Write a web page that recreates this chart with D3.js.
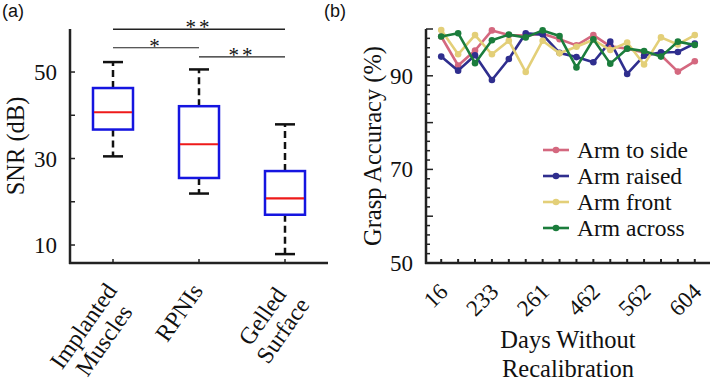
<!DOCTYPE html>
<html>
<head>
<meta charset="utf-8">
<script src="https://cdn.jsdelivr.net/npm/d3@7"></script>
<style>
  body { margin: 0; background: #fff; }
  svg { display: block; }
  text { font-family: "Liberation Serif", "Times New Roman", serif; fill: #111; }
</style>
</head>
<body>
<div id="chart"></div>
<script>
// ---- panel (a) data: SNR box plots
const groups = ["Implanted Muscles", "RPNIs", "Gelled Surface"];
const groupLines = [["Implanted", "Muscles"], ["RPNIs"], ["Gelled", "Surface"]];
const whiskerLow = [30.5, 21.9, 7.9];
const q1 = [36.7, 25.5, 17.0];
const median = [40.7, 33.3, 20.8];
const q3 = [46.3, 42.1, 27.1];
const whiskerHigh = [52.3, 50.6, 37.9];
const snrTicks = [10, 20, 30, 40, 50];
const snrTickLabels = [10, 30, 50];
// significance brackets: from group, to group, level (dB), stars
const sigFrom = [0, 0, 1];
const sigTo = [2, 1, 2];
const sigLevel = [59.9, 55.6, 53.5];
const sigStars = ["**", "*", "**"];

// ---- panel (b) data: grasp accuracy per session
const sessions = d3.range(16);
const dayTickIdx = [0, 3, 6, 9, 12, 15];
const dayTickLabels = ["16", "233", "261", "462", "562", "604"];
const seriesNames = ["Arm to side", "Arm raised", "Arm front", "Arm across"];
const armSide = [98.4, 92.2, 95.4, 99.7, 98.7, 98.6, 99.0, 97.8, 96.5, 98.7, 96.3, 95.8, 95.0, 94.4, 90.9, 93.1];
const armRaised = [94.1, 91.1, 94.4, 89.1, 93.6, 99.1, 98.8, 94.9, 94.0, 92.9, 97.3, 90.4, 94.3, 95.0, 95.1, 96.9];
const armFront = [99.8, 94.6, 98.7, 94.6, 97.5, 90.8, 97.5, 94.8, 96.2, 97.7, 95.5, 97.1, 92.4, 98.2, 96.7, 98.7];
const armAcross = [98.4, 99.1, 92.7, 97.6, 98.8, 98.2, 99.7, 98.5, 91.8, 97.8, 92.6, 95.8, 95.3, 94.1, 97.3, 96.6];
const accTicks = d3.range(50, 101, 2);
const accTickLabels = [50, 70, 90];

const width = 714, height = 388;
const seriesColors = ["#d4687f", "#2f2e8e", "#e3cf78", "#1b7d3c"];

const svg = d3.select("#chart")
    .append("svg")
    .attr("width", width)
    .attr("height", height);

// ===================== panel (a) =====================
const xa = d3.scalePoint().domain(groups).range([70, 328]).padding(0.5);
const ya = d3.scaleLinear().domain([5.84, 59.95]).range([263, 29]);

const pa = svg.append("g");

// boxes
groups.forEach(function (g, i) {
    const cx = xa(g);
    // whiskers (dashed)
    pa.append("line")
        .attr("x1", cx).attr("x2", cx)
        .attr("y1", ya(q3[i])).attr("y2", ya(whiskerHigh[i]))
        .attr("stroke", "#111").attr("stroke-width", 2.5)
        .attr("stroke-dasharray", "7,4");
    pa.append("line")
        .attr("x1", cx).attr("x2", cx)
        .attr("y1", ya(q1[i])).attr("y2", ya(whiskerLow[i]))
        .attr("stroke", "#111").attr("stroke-width", 2.5)
        .attr("stroke-dasharray", "7,4");
    // caps
    [whiskerHigh[i], whiskerLow[i]].forEach(function (v) {
        pa.append("line")
            .attr("x1", cx - 10).attr("x2", cx + 10)
            .attr("y1", ya(v)).attr("y2", ya(v))
            .attr("stroke", "#111").attr("stroke-width", 2.5);
    });
    // box
    pa.append("rect")
        .attr("x", cx - 20).attr("width", 40)
        .attr("y", ya(q3[i])).attr("height", ya(q1[i]) - ya(q3[i]))
        .attr("fill", "none")
        .attr("stroke", "#1515e0").attr("stroke-width", 2.5);
    // median
    pa.append("line")
        .attr("x1", cx - 19).attr("x2", cx + 19)
        .attr("y1", ya(median[i])).attr("y2", ya(median[i]))
        .attr("stroke", "#ee1a1a").attr("stroke-width", 2.2);
});

// significance brackets
sigFrom.forEach(function (f, i) {
    const x1 = xa(groups[f]), x2 = xa(groups[sigTo[i]]);
    pa.append("line")
        .attr("x1", x1).attr("x2", x2)
        .attr("y1", ya(sigLevel[i])).attr("y2", ya(sigLevel[i]))
        .attr("stroke", "#222").attr("stroke-width", i === 0 ? 1.6 : 1.1);
    pa.append("text")
        .attr("x", (x1 + x2) / 2)
        .attr("y", ya(sigLevel[i]) + 5)
        .attr("text-anchor", "middle")
        .attr("letter-spacing", "3px")
        .style("font-size", "21px")
        .text(sigStars[i]);
});

// axes (a)
pa.append("line").attr("x1", 70).attr("x2", 70).attr("y1", 29).attr("y2", 264)
    .attr("stroke", "#222").attr("stroke-width", 2.5);
pa.append("line").attr("x1", 69).attr("x2", 328).attr("y1", 263).attr("y2", 263)
    .attr("stroke", "#222").attr("stroke-width", 2.5);
pa.selectAll(".ytick").data(snrTicks).join("line")
    .attr("x1", 70).attr("x2", 75)
    .attr("y1", d => ya(d)).attr("y2", d => ya(d))
    .attr("stroke", "#222").attr("stroke-width", 1.5);
pa.selectAll(".ylab").data(snrTickLabels).join("text")
    .attr("x", 57).attr("y", d => ya(d))
    .attr("dy", "0.35em")
    .attr("text-anchor", "end")
    .style("font-size", "23px")
    .text(d => d);
pa.selectAll(".xtick").data(groups).join("line")
    .attr("x1", d => xa(d)).attr("x2", d => xa(d))
    .attr("y1", 263).attr("y2", 259)
    .attr("stroke", "#222").attr("stroke-width", 1.5);

// rotated multi-line category labels, block anchored at its top-right corner
groups.forEach(function (g, i) {
    const lab = pa.append("g")
        .attr("transform", `translate(${xa(g) - 9},${281}) rotate(-55)`);
    const texts = groupLines[i].map(function (line, j) {
        return lab.append("text")
            .attr("y", 17 + j * 25)
            .attr("text-anchor", "middle")
            .style("font-size", "24px")
            .text(line);
    });
    const w = d3.max(texts, t => t.node().getComputedTextLength());
    texts.forEach(t => t.attr("x", -w / 2));
});

pa.append("text")
    .attr("transform", `translate(24,146) rotate(-90)`)
    .attr("text-anchor", "middle")
    .style("font-size", "24.5px")
    .text("SNR (dB)");

// ===================== panel (b) =====================
const xb = d3.scalePoint().domain(sessions).range([426, 710]).padding(0.9);
const yb = d3.scaleLinear().domain([50, 100]).range([263, 29]);
const pb = svg.append("g");

const allSeries = [armSide, armRaised, armFront, armAcross];
const line = d3.line()
    .x((d, i) => xb(sessions[i]))
    .y(d => yb(d));

allSeries.forEach(function (vals, k) {
    pb.append("path")
        .attr("d", line(vals))
        .attr("fill", "none")
        .attr("stroke", seriesColors[k])
        .attr("stroke-width", 2.6)
        .attr("stroke-linejoin", "round");
    pb.selectAll(".pt" + k).data(vals).join("circle")
        .attr("cx", (d, i) => xb(sessions[i]))
        .attr("cy", d => yb(d))
        .attr("r", 3.3)
        .attr("fill", seriesColors[k]);
});

// axes (b)
pb.append("line").attr("x1", 426).attr("x2", 426).attr("y1", 29).attr("y2", 264)
    .attr("stroke", "#222").attr("stroke-width", 2.5);
pb.append("line").attr("x1", 425).attr("x2", 710).attr("y1", 263).attr("y2", 263)
    .attr("stroke", "#222").attr("stroke-width", 2.5);
pb.selectAll(".ytick").data(accTicks).join("line")
    .attr("x1", 426).attr("x2", d => d % 10 === 0 ? 433 : 430)
    .attr("y1", d => yb(d)).attr("y2", d => yb(d))
    .attr("stroke", "#222").attr("stroke-width", 1.5);
pb.selectAll(".ylab").data(accTickLabels).join("text")
    .attr("x", 413).attr("y", d => yb(d))
    .attr("dy", "0.35em")
    .attr("text-anchor", "end")
    .style("font-size", "23px")
    .text(d => d);
pb.selectAll(".xtick").data(sessions).join("line")
    .attr("x1", d => xb(d)).attr("x2", d => xb(d))
    .attr("y1", 263).attr("y2", 259)
    .attr("stroke", "#222").attr("stroke-width", 2);
pb.selectAll(".xlab").data(dayTickIdx).join("text")
    .attr("transform", (d, i) => `translate(${xb(sessions[d]) + 8},${293}) rotate(-45)`)
    .attr("text-anchor", "end")
    .style("font-size", "23px")
    .text((d, i) => dayTickLabels[i]);

pb.append("text")
    .attr("transform", `translate(381,146) rotate(-90)`)
    .attr("text-anchor", "middle")
    .style("font-size", "24.5px")
    .text("Grasp Accuracy (%)");
pb.append("text")
    .attr("x", 568).attr("y", 348)
    .attr("text-anchor", "middle")
    .style("font-size", "24.5px")
    .text("Days Without");
pb.append("text")
    .attr("x", 568).attr("y", 377)
    .attr("text-anchor", "middle")
    .style("font-size", "24.5px")
    .text("Recalibration");

// legend
const leg = pb.selectAll(".leg").data(seriesNames).join("g")
    .attr("transform", (d, i) => `translate(543,${150 + i * 26})`);
leg.append("line")
    .attr("x1", 0).attr("x2", 26).attr("y1", 0).attr("y2", 0)
    .attr("stroke", (d, i) => seriesColors[i]).attr("stroke-width", 2.6);
leg.append("circle")
    .attr("cx", 13).attr("cy", 0).attr("r", 3.3)
    .attr("fill", (d, i) => seriesColors[i]);
leg.append("text")
    .attr("x", 34).attr("dy", "0.33em")
    .style("font-size", "23.5px")
    .text(d => d);

// panel letters
svg.append("text").attr("x", 2).attr("y", 17)
    .style("font-family", "'Liberation Sans', Arial, sans-serif")
    .style("font-size", "18px").text("(a)");
svg.append("text").attr("x", 324).attr("y", 17)
    .style("font-family", "'Liberation Sans', Arial, sans-serif")
    .style("font-size", "18px").text("(b)");
</script>
</body>
</html>
